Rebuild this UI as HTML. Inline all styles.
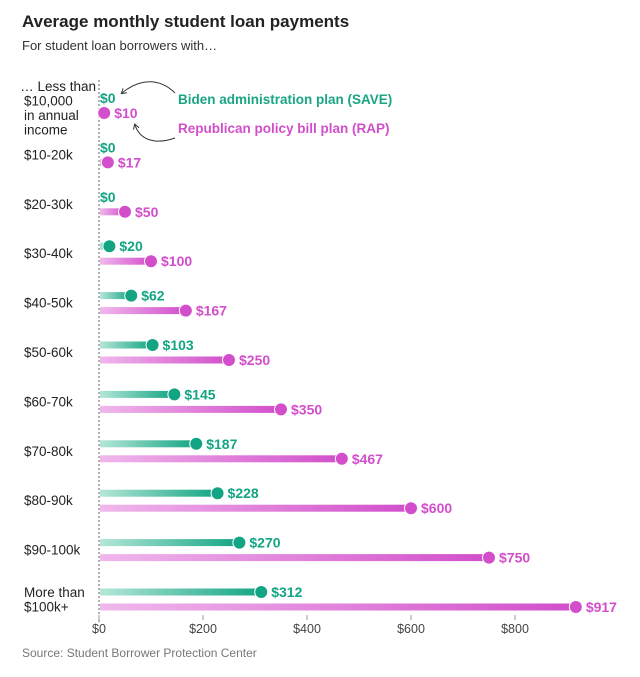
<!DOCTYPE html>
<html><head><meta charset="utf-8"><style>
body{margin:0;background:#fff;font-family:"Liberation Sans",Arial,sans-serif;}
svg text{font-family:"Liberation Sans",Arial,sans-serif;}
</style></head><body>
<svg id="c" width="640" height="672">
<defs>
<linearGradient id="gg" x1="0" x2="1" y1="0" y2="0"><stop offset="0" stop-color="#b4e6d8"/><stop offset="1" stop-color="#13a583"/></linearGradient>
<linearGradient id="pg" x1="0" x2="1" y1="0" y2="0"><stop offset="0" stop-color="#f0b8ec"/><stop offset="1" stop-color="#d24ecb"/></linearGradient>
<marker id="ar" markerWidth="8" markerHeight="8" refX="4" refY="4" orient="auto"><path d="M0,1 L5,4 L0,7" fill="none" stroke="#333" stroke-width="1"/></marker>
</defs>
<text x="22" y="27" font-size="17" font-weight="bold" fill="#222">Average monthly student loan payments</text>
<text x="22" y="50" font-size="13" fill="#333">For student loan borrowers with…</text>
<line x1="99" y1="80" x2="99" y2="622" stroke="#666" stroke-dasharray="2,2"/>
<g id="bars"></g>
<g id="axis"></g>
<text x="22" y="657" font-size="12" fill="#777">Source: Student Borrower Protection Center</text>
<text x="178" y="104" font-size="13.5" font-weight="bold" fill="#1aa585">Biden administration plan (SAVE)</text>
<text x="178" y="133" font-size="13.5" font-weight="bold" fill="#d24ecb">Republican policy bill plan (RAP)</text>
<path d="M175,93 C160,78 140,78 122,93" fill="none" stroke="#333" stroke-width="1" marker-end="url(#ar)"/>
<path d="M175,138 C155,145 140,140 135,125" fill="none" stroke="#333" stroke-width="1" marker-end="url(#ar)"/>
</svg>
<script>
const categories=["<$10k","$10-20k","$20-30k","$30-40k","$40-50k","$50-60k","$60-70k","$70-80k","$80-90k","$90-100k","$100k+"];
const catLabels=[["… Less than","$10,000","in annual","income"],["$10-20k"],["$20-30k"],["$30-40k"],["$40-50k"],["$50-60k"],["$60-70k"],["$70-80k"],["$80-90k"],["$90-100k"],["More than","$100k+"]];
const saveValues=[0,0,0,20,62,103,145,187,228,270,312];
const rapValues=[10,17,50,100,167,250,350,467,600,750,917];
const ticks=[0,200,400,600,800];
const NS="http://www.w3.org/2000/svg";
const x=v=>99+v*0.52;
const yRow=i=>98+i*49.4;
function el(t,a,p){const e=document.createElementNS(NS,t);for(const k in a)e.setAttribute(k,a[k]);p.appendChild(e);return e;}
const g=document.getElementById('bars'),ax=document.getElementById('axis');
categories.forEach((c,i)=>{
 const yg=yRow(i),yp=yg+15;
 const L=catLabels[i];
 if(i===0){
  L.forEach((s,j)=>{const t=el('text',{x:j===0?96:24,y:91+j*14.5,'font-size':13.5,fill:'#222','text-anchor':j===0?'end':'start'},g);t.textContent=s;
  
  });
 } else {
  const y0=yg+12-(L.length-1)*7;
  L.forEach((s,j)=>{const t=el('text',{x:24,y:y0+j*14.5,'font-size':13.5,fill:'#222'},g);t.textContent=s;
  
  });
 }
 [[saveValues[i],yg,'gg','#13a583','save'],[rapValues[i],yp,'pg','#d24ecb','rap']].forEach(([v,y,gr,col,nm])=>{
  if(v>0){
   const r=el('rect',{x:100,y:y-3.5,width:Math.max(x(v)-100,1),height:7,fill:'url(#'+gr+')'},g);
   
   
   const d=el('circle',{cx:x(v),cy:y,r:6.5,fill:col,stroke:'#fff','stroke-width':1},g);
   
   
  }
  const t=el('text',{x:v>0?x(v)+10:100,y:y+5,'font-size':14,'font-weight':'bold',fill:col},g);
  t.textContent='$'+v;
  
  
 });
});
ticks.forEach(v=>{
 const l=el('line',{x1:x(v),x2:x(v),y1:615,y2:620,stroke:'#999'},ax);
 
 
 const t=el('text',{x:x(v),y:633,'font-size':12.5,fill:'#444','text-anchor':'middle'},ax);
 t.textContent='$'+v;
 
 
});
</script>
</body></html>
